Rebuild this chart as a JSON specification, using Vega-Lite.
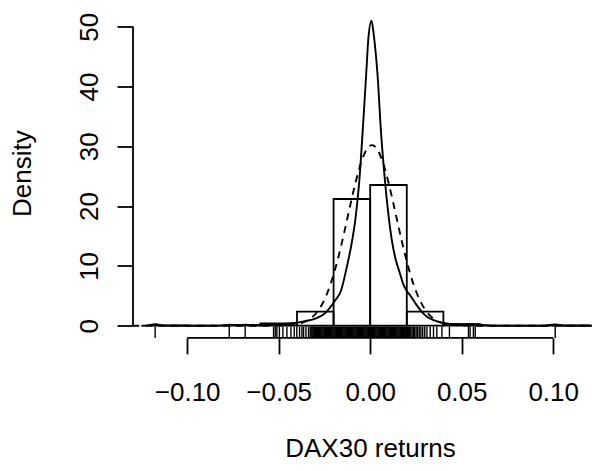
{
  "$schema": "https://vega.github.io/schema/vega-lite/v6.json",
  "width": 459,
  "height": 329.4,
  "autosize": {"type": "none"},
  "padding": {"left": 133, "top": 8.5, "right": 0, "bottom": 133.1},
  "config": {
    "view": {"stroke": null},
    "font": "Liberation Sans",
    "axis": {"grid": false, "domain": false, "labelColor": "black", "titleColor": "black", "tickColor": "black", "tickWidth": 1.8, "labelFont": "Liberation Sans", "titleFont": "Liberation Sans", "titleFontWeight": "normal", "labelFlush": false, "labelOverlap": false}
  },
  "datasets": {
    "hist": [
      {"lo": -0.12, "hi": -0.10, "density": 0.05},
      {"lo": -0.10, "hi": -0.08, "density": 0},
      {"lo": -0.08, "hi": -0.06, "density": 0.1},
      {"lo": -0.06, "hi": -0.04, "density": 0.4},
      {"lo": -0.04, "hi": -0.02, "density": 2.34},
      {"lo": -0.02, "hi": 0.00, "density": 21.19},
      {"lo": 0.00, "hi": 0.02, "density": 23.53},
      {"lo": 0.02, "hi": 0.04, "density": 2.34},
      {"lo": 0.04, "hi": 0.06, "density": 0.25},
      {"lo": 0.06, "hi": 0.08, "density": 0},
      {"lo": 0.08, "hi": 0.10, "density": 0},
      {"lo": 0.10, "hi": 0.12, "density": 0.05}
    ],
    "kde": [
      {"x": -0.125, "y": 0}, {"x": -0.1225, "y": 0.02}, {"x": -0.1175, "y": 0.25}, {"x": -0.1125, "y": 0.02},
      {"x": -0.105, "y": 0}, {"x": -0.085, "y": 0}, {"x": -0.080, "y": 0.05}, {"x": -0.077, "y": 0.15},
      {"x": -0.0725, "y": 0.1}, {"x": -0.068, "y": 0.15}, {"x": -0.064, "y": 0.08}, {"x": -0.060, "y": 0.12},
      {"x": -0.055, "y": 0.2}, {"x": -0.050, "y": 0.25}, {"x": -0.045, "y": 0.32}, {"x": -0.040, "y": 0.5},
      {"x": -0.035, "y": 0.8}, {"x": -0.030, "y": 1.2}, {"x": -0.025, "y": 2.0}, {"x": -0.022, "y": 3.0},
      {"x": -0.019, "y": 4.3}, {"x": -0.016, "y": 5.8}, {"x": -0.013, "y": 9.5}, {"x": -0.010, "y": 14},
      {"x": -0.008, "y": 18}, {"x": -0.006, "y": 24}, {"x": -0.004, "y": 33}, {"x": -0.002, "y": 43},
      {"x": -0.001, "y": 48}, {"x": 0.0007, "y": 51.0}, {"x": 0.002, "y": 48.5}, {"x": 0.004, "y": 42},
      {"x": 0.006, "y": 32}, {"x": 0.008, "y": 24.5}, {"x": 0.010, "y": 18.5}, {"x": 0.012, "y": 14},
      {"x": 0.014, "y": 11}, {"x": 0.016, "y": 9}, {"x": 0.018, "y": 7}, {"x": 0.020, "y": 5.8},
      {"x": 0.022, "y": 5.0}, {"x": 0.025, "y": 3.6}, {"x": 0.028, "y": 2.4}, {"x": 0.031, "y": 1.5},
      {"x": 0.035, "y": 0.9}, {"x": 0.040, "y": 0.45}, {"x": 0.045, "y": 0.28}, {"x": 0.050, "y": 0.2},
      {"x": 0.055, "y": 0.3}, {"x": 0.060, "y": 0.15}, {"x": 0.065, "y": 0.03}, {"x": 0.070, "y": 0},
      {"x": 0.095, "y": 0}, {"x": 0.1011, "y": 0.22}, {"x": 0.106, "y": 0}, {"x": 0.125, "y": 0}
    ],
    "norm": [
      {"x": -0.13, "y": 0}, {"x": -0.059, "y": 0}, {"x": -0.049, "y": 0.02}, {"x": -0.044, "y": 0.09},
      {"x": -0.039, "y": 0.31}, {"x": -0.035, "y": 0.74}, {"x": -0.032, "y": 1.33}, {"x": -0.029, "y": 2.29},
      {"x": -0.026, "y": 3.74}, {"x": -0.023, "y": 5.80}, {"x": -0.020, "y": 8.54}, {"x": -0.017, "y": 11.94},
      {"x": -0.014, "y": 15.85}, {"x": -0.011, "y": 19.99}, {"x": -0.008, "y": 23.95}, {"x": -0.005, "y": 27.24},
      {"x": -0.002, "y": 29.43}, {"x": 0.001, "y": 30.2}, {"x": 0.004, "y": 29.43}, {"x": 0.007, "y": 27.24},
      {"x": 0.010, "y": 23.95}, {"x": 0.013, "y": 19.99}, {"x": 0.016, "y": 15.85}, {"x": 0.019, "y": 11.94},
      {"x": 0.022, "y": 8.54}, {"x": 0.025, "y": 5.80}, {"x": 0.028, "y": 3.74}, {"x": 0.031, "y": 2.29},
      {"x": 0.034, "y": 1.33}, {"x": 0.037, "y": 0.74}, {"x": 0.041, "y": 0.31}, {"x": 0.046, "y": 0.09},
      {"x": 0.051, "y": 0.02}, {"x": 0.061, "y": 0}, {"x": 0.13, "y": 0}
    ],
    "rug": [
      {"ret": -0.1175}, {"ret": -0.0770}, {"ret": -0.0683}, {"ret": -0.0528}, {"ret": -0.0519}, {"ret": -0.0510},
      {"ret": -0.0496}, {"ret": -0.0477}, {"ret": -0.0455}, {"ret": -0.0433}, {"ret": -0.0415}, {"ret": -0.0401},
      {"ret": -0.0386}, {"ret": -0.0373}, {"ret": -0.0364}, {"ret": -0.0351}, {"ret": -0.0337},
      {"ret": -0.0328}, {"ret": -0.0323}, {"ret": -0.0318}, {"ret": -0.0313}, {"ret": -0.0308}, {"ret": -0.0303},
      {"ret": -0.0298}, {"ret": -0.0293}, {"ret": -0.0288}, {"ret": -0.0283}, {"ret": -0.0278}, {"ret": -0.0273},
      {"ret": -0.0268}, {"ret": -0.0263}, {"ret": -0.0258}, {"ret": -0.0253}, {"ret": -0.0248}, {"ret": -0.0243},
      {"ret": -0.0238}, {"ret": -0.0233}, {"ret": -0.0228}, {"ret": -0.0223}, {"ret": -0.0218}, {"ret": -0.0213},
      {"ret": -0.0208}, {"ret": -0.0203}, {"ret": -0.0198}, {"ret": -0.0193}, {"ret": -0.0188}, {"ret": -0.0183},
      {"ret": -0.0178}, {"ret": -0.0173}, {"ret": -0.0168}, {"ret": -0.0163}, {"ret": -0.0158}, {"ret": -0.0153},
      {"ret": -0.0148}, {"ret": -0.0143}, {"ret": -0.0138}, {"ret": -0.0133}, {"ret": -0.0128}, {"ret": -0.0123},
      {"ret": -0.0118}, {"ret": -0.0113}, {"ret": -0.0108}, {"ret": -0.0103}, {"ret": -0.0098}, {"ret": -0.0093},
      {"ret": -0.0088}, {"ret": -0.0083}, {"ret": -0.0078}, {"ret": -0.0073}, {"ret": -0.0068}, {"ret": -0.0063},
      {"ret": -0.0058}, {"ret": -0.0053}, {"ret": -0.0048}, {"ret": -0.0043}, {"ret": -0.0038}, {"ret": -0.0033},
      {"ret": -0.0028}, {"ret": -0.0023}, {"ret": -0.0018}, {"ret": -0.0013}, {"ret": -0.0008}, {"ret": -0.0003},
      {"ret": 0.0002}, {"ret": 0.0007}, {"ret": 0.0012}, {"ret": 0.0017}, {"ret": 0.0022}, {"ret": 0.0027},
      {"ret": 0.0032}, {"ret": 0.0037}, {"ret": 0.0042}, {"ret": 0.0047}, {"ret": 0.0052}, {"ret": 0.0057},
      {"ret": 0.0062}, {"ret": 0.0067}, {"ret": 0.0072}, {"ret": 0.0077}, {"ret": 0.0082}, {"ret": 0.0087},
      {"ret": 0.0092}, {"ret": 0.0097}, {"ret": 0.0102}, {"ret": 0.0107}, {"ret": 0.0112}, {"ret": 0.0117},
      {"ret": 0.0122}, {"ret": 0.0127}, {"ret": 0.0132}, {"ret": 0.0137}, {"ret": 0.0142}, {"ret": 0.0147},
      {"ret": 0.0152}, {"ret": 0.0157}, {"ret": 0.0162}, {"ret": 0.0167}, {"ret": 0.0172}, {"ret": 0.0177},
      {"ret": 0.0182}, {"ret": 0.0187}, {"ret": 0.0192}, {"ret": 0.0198}, {"ret": 0.0204}, {"ret": 0.0210},
      {"ret": 0.0216}, {"ret": 0.0222}, {"ret": 0.0229}, {"ret": 0.0236}, {"ret": 0.0243}, {"ret": 0.0251},
      {"ret": 0.0259}, {"ret": 0.0268}, {"ret": 0.0277}, {"ret": 0.0287}, {"ret": 0.0298}, {"ret": 0.0310},
      {"ret": 0.0328}, {"ret": 0.0346}, {"ret": 0.0364}, {"ret": 0.0392}, {"ret": 0.0433}, {"ret": 0.0537},
      {"ret": 0.0546}, {"ret": 0.0564}, {"ret": 0.0574}, {"ret": 0.1011}
    ]
  },
  "layer": [
    {
      "data": {"name": "hist"},
      "mark": {"type": "rect", "fill": "transparent", "stroke": "black", "strokeWidth": 1.8},
      "encoding": {
        "x": {"field": "lo", "type": "quantitative",
          "scale": {"domain": [-0.1296, 0.1212], "nice": false, "zero": false},
          "axis": {"values": [-0.1, -0.05, 0, 0.05, 0.1], "format": ".2f", "tickSize": 16,
            "labelFontSize": 26, "labelBaseline": "alphabetic", "labelPadding": 47,
            "title": "DAX30 returns", "titleFontSize": 26, "titleBaseline": "alphabetic", "titleAlign": "center", "titleX": 237, "titleY": 119}},
        "x2": {"field": "hi"},
        "y": {"field": "density", "type": "quantitative",
          "scale": {"domain": [-2.04, 53.04], "nice": false, "zero": false},
          "axis": {"values": [0, 10, 20, 30, 40, 50], "tickSize": 16, "labelAngle": -90,
            "labelAlign": "center", "labelBaseline": "alphabetic", "labelPadding": 20, "labelFontSize": 26,
            "title": "Density", "titleFontSize": 26, "titleAngle": -90, "titleBaseline": "alphabetic",
            "titleAlign": "center", "titleX": -103, "titleY": 164.7}},
        "y2": {"datum": 0}
      }
    },
    {
      "data": {"name": "kde"},
      "mark": {"type": "line", "stroke": "black", "strokeWidth": 1.9, "interpolate": "monotone", "clip": true},
      "encoding": {"x": {"field": "x", "type": "quantitative"}, "y": {"field": "y", "type": "quantitative"}}
    },
    {
      "data": {"name": "norm"},
      "mark": {"type": "line", "stroke": "black", "strokeWidth": 1.9, "strokeDash": [7, 6], "interpolate": "monotone", "clip": true},
      "encoding": {"x": {"field": "x", "type": "quantitative"}, "y": {"field": "y", "type": "quantitative"}}
    },
    {
      "data": {"name": "rug"},
      "mark": {"type": "rule", "stroke": "black", "strokeWidth": 1.4},
      "encoding": {"x": {"field": "ret", "type": "quantitative"}, "y": {"datum": -2.04}, "y2": {"datum": -0.15}}
    },
    {
      "data": {"values": [{}]},
      "mark": {"type": "rule", "stroke": "black", "strokeWidth": 1.8},
      "encoding": {"x": {"datum": -0.1}, "x2": {"datum": 0.1}, "y": {"datum": -2.04}}
    },
    {
      "data": {"values": [{}]},
      "mark": {"type": "rule", "stroke": "black", "strokeWidth": 1.8},
      "encoding": {"x": {"datum": -0.1296}, "y": {"datum": 0}, "y2": {"datum": 50}}
    }
  ]
}
